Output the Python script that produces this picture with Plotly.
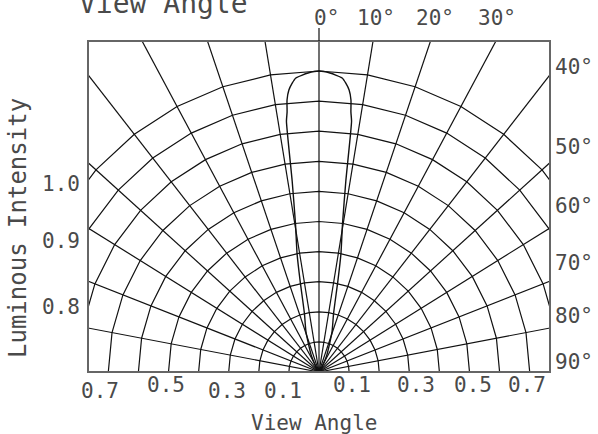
import numpy as np
import plotly.graph_objects as go

# ---------------- data ----------------
grid_angles = [-90, -80, -70, -60, -50, -40, -30, -20, -10, 0, 10, 20, 30, 40, 50, 60, 70, 80, 90]
grid_radii = [0.1, 0.2, 0.3, 0.4, 0.5, 0.6, 0.7, 0.8, 0.9, 1.0]
line_stretch = 1.08  # the original drawing's radial directions are vertically stretched

# beam pattern (right half, mirrored), angle in degrees, relative intensity
beam_angle = [0, 2.1, 4.5, 5.3, 6.1, 6.7, 7.0, 7.4, 8.0, 9.0, 10.5, 11.7, 14.0, 18.0, 25.0]
beam_intensity = [1.0, 0.994, 0.980, 0.964, 0.942, 0.910, 0.87, 0.84, 0.64, 0.50, 0.40, 0.31, 0.20, 0.14, 0.06]

top_labels = ["0°", "10°", "20°", "30°"]
right_labels = ["40°", "50°", "60°", "70°", "80°", "90°"]
left_labels = ["1.0", "0.9", "0.8"]
bottom_labels = ["0.7", "0.5", "0.3", "0.1", "0.1", "0.3", "0.5", "0.7"]

# ---------------- geometry helpers ----------------
W, H = 598, 434
L, R, T, B = 88, 48, 41, 62
PW, PH = W - L - R, H - T - B
UNIT = 301.0  # pixels per 1.0
xr = PW / 2 / UNIT
yr = PH / UNIT


def drawn_dir(theta_deg):
    t = np.radians(np.asarray(theta_deg, dtype=float))
    return np.arctan2(np.sin(t), np.cos(t) * line_stretch)


def px(xpix):
    return (xpix - L) / PW


def py(ypix):
    return (H - B - ypix) / PH


fig = go.Figure()

# radial lines
rx, ry = [], []
for a in grid_angles:
    if abs(a) == 90:
        continue
    phi = drawn_dir(a)
    rx += [0, 3 * np.sin(phi), None]
    ry += [0, 3 * np.cos(phi), None]
fig.add_trace(go.Scatter(x=rx, y=ry, mode="lines", line=dict(color="#111", width=1.2),
                         hoverinfo="skip", showlegend=False))

# arcs (polygons through the radial lines)
ax_, ay_ = [], []
phis = drawn_dir(grid_angles)
for r in grid_radii:
    ax_ += list(r * np.sin(phis)) + [None]
    ay_ += list(r * np.cos(phis)) + [None]
fig.add_trace(go.Scatter(x=ax_, y=ay_, mode="lines", line=dict(color="#111", width=1.2),
                         hoverinfo="skip", showlegend=False))

# beam curve
ba = np.array(beam_angle)
bi = np.array(beam_intensity)
full_a = np.concatenate([[-90], -ba[::-1], ba[1:], [90]])
full_i = np.concatenate([[0], bi[::-1], bi[1:], [0]])
t = np.radians(full_a)
fig.add_trace(go.Scatter(x=full_i * np.sin(t), y=full_i * np.cos(t), mode="lines",
                         line=dict(color="#111", width=1.4, shape="spline", smoothing=0.5),
                         hoverinfo="skip", showlegend=False))

# frame and 0° extension
fig.add_shape(type="rect", xref="paper", yref="paper", x0=0, y0=0, x1=1, y1=1,
              line=dict(color="#666", width=2))
fig.add_shape(type="line", xref="x", yref="paper", x0=0, x1=0, y0=1, y1=py(28),
              line=dict(color="#111", width=1.2))

FONT = "DejaVu Sans Mono"
COL = "#4a4a4a"


def ann(text, xp, yp, size, xanchor="center", yanchor="middle", angle=0):
    fig.add_annotation(text=text, x=xp, y=yp, xref="paper", yref="paper", showarrow=False,
                       xanchor=xanchor, yanchor=yanchor, textangle=angle,
                       font=dict(family=FONT, size=size, color=COL))


for lab, x in zip(top_labels, [326, 376, 435, 497]):
    ann(lab, px(x), py(18), 21)
for lab, y in zip(right_labels, [67, 147, 206, 263, 316, 362]):
    ann(lab, px(553), py(y), 21, xanchor="left")
for lab, y in zip(left_labels, [184, 241, 307]):
    ann(lab, px(82), py(y), 21, xanchor="right")
for lab, x, y in zip(bottom_labels, [100, 166, 227, 283, 352, 416, 473, 527],
                     [391, 385, 391, 391, 385, 385, 385, 385]):
    ann(lab, px(x), py(y), 21)

ann("View Angle", px(314), py(423), 21)
ann("View Angle", px(163), py(3), 28)
ann("Luminous Intensity", px(18), py(228), 24, angle=-90)

fig.update_layout(
    width=W, height=H,
    margin=dict(l=L, r=R, t=T, b=B),
    paper_bgcolor="white", plot_bgcolor="white",
    xaxis=dict(range=[-xr, xr], visible=False, fixedrange=True),
    yaxis=dict(range=[0, yr], visible=False, fixedrange=True),
    showlegend=False,
)

fig.write_html("out.html", config={"displayModeBar": False})

# remove the browser's default page margin so the figure sits at the window's origin
with open("out.html", "r", encoding="utf-8") as f:
    html = f.read()
html = html.replace("<body>", '<body style="margin:0;padding:0;overflow:hidden">', 1)
with open("out.html", "w", encoding="utf-8") as f:
    f.write(html)
